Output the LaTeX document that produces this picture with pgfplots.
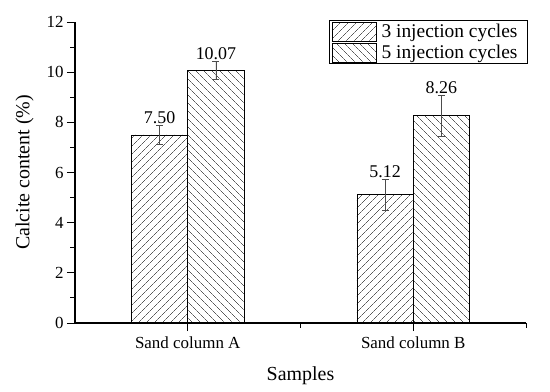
\documentclass[border=0pt]{standalone}
\usepackage{fontspec}
\setmainfont{Liberation Serif}
\usepackage{pgfplots}
\pgfplotsset{compat=1.18}
\usetikzlibrary{patterns.meta}
\begin{document}
\begin{tikzpicture}
\begin{axis}[
  scale only axis, width=451bp, height=301bp,
  xmin=0.5, xmax=2.5, ymin=0, ymax=12,
  ybar, bar width=0.25,
  axis x line*=bottom, axis y line*=left,
  axis line style={line width=1.1bp},
  xtick={1,2}, xticklabels={Sand column A, Sand column B},
  minor xtick={1.5,2.5},
  ytick={0,2,...,12}, minor ytick={1,3,...,11},
  tick align=outside, major tick length=8bp, minor tick length=4.5bp,
  tick style={black, line width=0.9bp},
  /pgf/number format/assume math mode=true,
  ticklabel style={font=\fontsize{17}{20}\selectfont},
  xticklabel style={yshift=-2bp},
  xlabel={Samples}, ylabel={Calcite content (\%)},
  label style={font=\fontsize{20}{24}\selectfont},
  xlabel style={yshift=-11bp},
  ylabel style={yshift=6bp},
  legend style={draw=black, line width=0.6bp, at={(1.004,1.005)}, anchor=north east,
    font=\fontsize{19.5}{22}\selectfont, inner xsep=3bp, inner ysep=1bp, row sep=1.5bp,
    nodes={inner sep=2bp}},
  legend cell align=left,
  legend image code/.code={\draw[#1] (0bp,-9.5bp) rectangle (44bp,9.5bp);},
  error bars/error bar style={gray!60!black, line width=0.8bp},
  error bars/error mark options={rotate=90, mark size=3.5bp, gray!60!black, line width=0.8bp},
]
\addplot[bar shift=-0.125, draw=black, line width=0.7bp,
  pattern={Lines[angle=45,distance=6bp,line width=0.5bp]}, pattern color=black,
  error bars/.cd, y dir=both, y explicit]
  coordinates {(1,7.50) +- (0,0.38) (2,5.12) +- (0,0.62)};
\addlegendentry{\rule{2.5bp}{0pt}3 injection cycles\rule{5bp}{0pt}}
\addplot[bar shift=0.125, draw=black, line width=0.7bp,
  pattern={Lines[angle=-45,distance=6bp,line width=0.5bp]}, pattern color=black,
  error bars/.cd, y dir=both, y explicit]
  coordinates {(1,10.07) +- (0,0.36) (2,8.26) +- (0,0.82)};
\addlegendentry{\rule{2.5bp}{0pt}5 injection cycles\rule{5bp}{0pt}}
\addplot[bar shift=0, draw=none, fill=none, forget plot, nodes near coords, point meta=explicit symbolic,
  nodes near coords style={anchor=south, inner sep=1.5bp, font=\fontsize{18}{21}\selectfont, black}]
  coordinates {(0.875,7.88)[7.50] (1.875,5.74)[5.12] (1.125,10.43)[10.07] (2.125,9.08)[8.26]};
\end{axis}
\pgfresetboundingbox
\path ([xshift=-75bp,yshift=-69bp]current axis.south west) rectangle ([xshift=24bp,yshift=22bp]current axis.north east);
\end{tikzpicture}
\end{document}
